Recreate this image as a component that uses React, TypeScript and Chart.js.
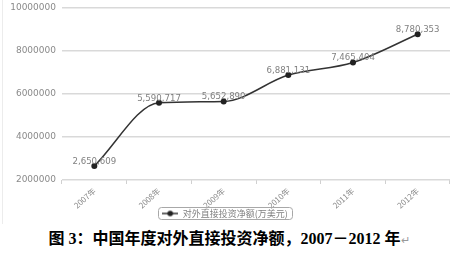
import React, { useEffect, useRef } from "react";
import { Chart, registerables } from "chart.js";

Chart.register(...registerables);

const categories = ["2007年", "2008年", "2009年", "2010年", "2011年", "2012年"];
const values = [2650609, 5590717, 5652890, 6881131, 7465404, 8780353];
const seriesName = "对外直接投资净额(万美元)";
const yMin = 2000000;
const yMax = 10000000;
const yStep = 2000000;
const caption = "图 3：中国年度对外直接投资净额，2007－2012 年";

function makeMarker(): HTMLCanvasElement {
  const c = document.createElement("canvas");
  c.width = 16;
  c.height = 8;
  const ctx = c.getContext("2d")!;
  ctx.strokeStyle = "#333";
  ctx.lineWidth = 1.5;
  ctx.beginPath();
  ctx.moveTo(0, 4);
  ctx.lineTo(16, 4);
  ctx.stroke();
  ctx.fillStyle = "#222";
  ctx.beginPath();
  ctx.arc(8, 4, 2.8, 0, Math.PI * 2);
  ctx.fill();
  return c;
}

const dataLabelPlugin = {
  id: "dataLabels",
  afterDatasetsDraw(chart: any) {
    const ctx = chart.ctx;
    const meta = chart.getDatasetMeta(0);
    ctx.save();
    ctx.font = '8.6px "DejaVu Sans"';
    ctx.fillStyle = "#808080";
    ctx.textAlign = "center";
    ctx.textBaseline = "alphabetic";
    meta.data.forEach((pt: any, i: number) => {
      const v = chart.data.datasets[0].data[i] as number;
      ctx.fillText(v.toLocaleString("en-US"), pt.x, pt.y - 2);
    });
    ctx.restore();
  },
};

const frameAndLegendBoxPlugin = {
  id: "legendBox",
  afterDraw(chart: any) {
    const ctx = chart.ctx;
    ctx.save();
    ctx.strokeStyle = "#ececec";
    ctx.lineWidth = 1;
    ctx.beginPath();
    ctx.moveTo(2.5, 0);
    ctx.lineTo(2.5, chart.height - 4);
    ctx.stroke();
    const lg = chart.legend;
    if (lg && lg.legendHitBoxes && lg.legendHitBoxes.length) {
      const hb = lg.legendHitBoxes[0];
      const x = hb.left - 4;
      const y = hb.top - 2;
      const w = hb.width + 8;
      const h = hb.height + 3;
      ctx.strokeStyle = "#a8a8a8";
      ctx.beginPath();
      (ctx as any).roundRect(Math.round(x) + 0.5, Math.round(y) + 0.5, Math.round(w), Math.round(h), 3);
      ctx.stroke();
    }
    ctx.restore();
  },
};

export default function App() {
  const ref = useRef<HTMLCanvasElement | null>(null);
  useEffect(() => {
    if (!ref.current) return;
    const marker = makeMarker();
    const chart = new Chart(ref.current, {
      type: "line",
      data: {
        labels: categories,
        datasets: [
          {
            label: seriesName,
            data: values,
            borderColor: "#333",
            backgroundColor: "#222",
            borderWidth: 1.5,
            pointRadius: 3,
            pointBackgroundColor: "#222",
            pointBorderWidth: 0,
            cubicInterpolationMode: "monotone",
            fill: false,
          },
        ],
      },
      options: {
        animation: false,
        responsive: false,
        maintainAspectRatio: false,
        layout: { padding: { left: 0, right: 8, top: 8, bottom: 0 } },
        plugins: {
          tooltip: { enabled: false },
          legend: {
            position: "bottom",
            labels: {
              usePointStyle: true,
              pointStyleWidth: 16,
              boxHeight: 8,
              padding: 4,
              color: "#808080",
              font: { family: '"Noto Sans CJK SC"', size: 9 },
              generateLabels: (ch: any) =>
                ch.data.datasets.map((ds: any, i: number) => ({
                  text: ds.label,
                  pointStyle: marker,
                  fillStyle: "#222",
                  strokeStyle: "#333",
                  lineWidth: 0,
                  hidden: false,
                  datasetIndex: i,
                  fontColor: "#808080",
                })),
            },
          },
        },
        scales: {
          x: {
            offset: true,
            afterFit: (s: any) => {
              s.height = 25;
              s.paddingLeft = 0;
              s.paddingRight = 0;
              // let rotated labels extend past the compact axis box (no clipping)
              s._computeLabelArea = () => undefined;
            },
            grid: {
              display: true,
              drawOnChartArea: false,
              drawTicks: true,
              tickLength: 4,
              color: "#d0d0d0",
              offset: true,
            },
            border: { display: false },
            ticks: {
              color: "#8a8a8a",
              font: { family: '"Noto Sans CJK SC"', size: 8 },
              minRotation: 42,
              maxRotation: 42,
              padding: 2,
            },
          },
          y: {
            min: yMin,
            max: yMax,
            afterFit: (s: any) => {
              s.width = 62;
              s.paddingTop = 0;
              s.paddingBottom = 0;
            },
            grid: { color: "#d9d9d9", lineWidth: 1.5, drawTicks: false },
            border: { display: false },
            ticks: {
              stepSize: yStep,
              color: "#8a8a8a",
              font: { family: '"DejaVu Sans"', size: 9 },
              padding: 6,
              callback: (v: any) => String(v),
            },
          },
        },
      },
      plugins: [dataLabelPlugin, frameAndLegendBoxPlugin],
    });
    return () => chart.destroy();
  }, []);

  return (
    <div style={{ position: "absolute", left: 0, top: 0, width: 458, height: 255, background: "#fff" }}>
      <canvas ref={ref} width={458} height={228} style={{ display: "block", position: "absolute", left: 0, top: 0 }} />
      <div
        style={{
          position: "absolute",
          left: 0,
          top: 229,
          width: 458,
          textAlign: "center",
          fontFamily: '"Liberation Serif", "Noto Sans CJK SC", serif',
          fontWeight: 700,
          fontSize: 16,
          lineHeight: "20px",
          color: "#000",
          whiteSpace: "nowrap",
        }}
      >
        {caption}
        <span style={{ fontWeight: 400, fontSize: 11, color: "#999" }}>↵</span>
      </div>
    </div>
  );
}
